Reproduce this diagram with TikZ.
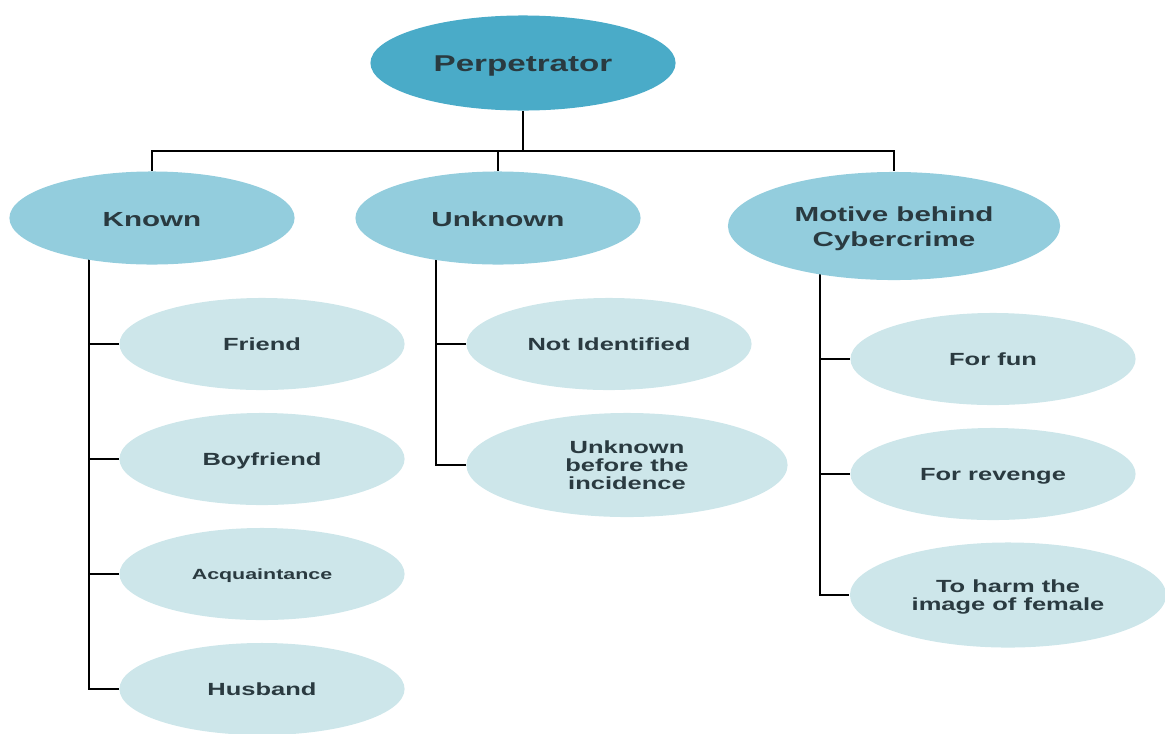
\documentclass[tikz,border=0pt]{standalone}
\usepackage{fontspec}
\setmainfont{Liberation Sans}
\usepackage{graphicx}
\usepackage{tikz}
\usetikzlibrary{shapes.geometric}
\usetikzlibrary{positioning}
\usetikzlibrary{backgrounds}
\definecolor{topblue}{HTML}{4AABC8}
\definecolor{midblue}{HTML}{93CDDD}
\definecolor{leafblue}{HTML}{CDE6EA}
\definecolor{txtgray}{HTML}{2A3A40}
\definecolor{linegray}{HTML}{8A8A8A}
% wide sans text, as in the reference
\newcommand{\wl}[1]{\raisebox{-0.15em}[\height][\depth]{\scalebox{1.45}[1]{\begin{tabular}{@{}c@{}}#1\end{tabular}}}}
\tikzset{
  ellnode/.style = {ellipse, inner sep=0pt, text=txtgray, align=center},
  top_n/.style = {ellnode, fill=topblue, minimum width=3.05cm, minimum height=0.95cm,
    font=\fontsize{6.5}{7.8}\selectfont\bfseries},% racine
  mid_n/.style = {ellnode, fill=midblue, minimum width=2.85cm, minimum height=0.93cm,
    font=\fontsize{5.8}{7.1}\selectfont\bfseries},% niveau 2
  leaf_n/.style = {ellnode, fill=leafblue, minimum width=2.85cm, minimum height=0.92cm,
    font=\fontsize{5}{5.1}\selectfont\bfseries},% feuilles
  branch/.style = {draw=linegray, line width=0.5pt}
}

\begin{document}
\begin{tikzpicture}[x=0.01cm, y=-0.01cm]
\useasboundingbox (0,0) rectangle (1165,733);

\node [top_n] (perp) at (523,63) {\wl{Perpetrator}};

\node [mid_n] (known) at (152,218) {\wl{Known}};
\node [mid_n] (unknown) at (498,218) {\wl{Unknown}};
\node [mid_n, minimum width=3.32cm, minimum height=1.08cm] (motive) at (894,226)
  {\wl{Motive behind\\Cybercrime}};

\node [leaf_n] (friend) at (262,344) {\wl{Friend}};
\node [leaf_n] (boyfriend) at (262,459) {\wl{Boyfriend}};
\node [leaf_n, font=\fontsize{4.2}{5}\selectfont\bfseries] (acq) at (262,574) {\wl{Acquaintance}};
\node [leaf_n] (husband) at (262,689) {\wl{Husband}};

\node [leaf_n] (notid) at (609,344) {\wl{Not Identified}};
\node [leaf_n, minimum width=3.21cm, minimum height=1.04cm] (unkbef) at (627,465)
  {\wl{Unknown\\before the\\incidence}};

\node [leaf_n] (fun) at (993,359) {\wl{For fun}};
\node [leaf_n] (revenge) at (993,474) {\wl{For revenge}};
\node [leaf_n, minimum width=3.16cm, minimum height=1.05cm] (harm) at (1008,595)
  {\wl{To harm the\\image of female}};

\begin{scope}[on background layer, branch]
\coordinate (bar) at (523,151);
\draw (perp.south) -- (bar);
\draw (known.north) |- (bar) -| (motive.north);
\draw (unknown.north) -- (unknown.north |- bar);

\coordinate (kspine) at ([xshift=-0.63cm]known.center);
\coordinate (uspine) at ([xshift=-0.62cm]unknown.center);
\coordinate (mspine) at ([xshift=-0.74cm]motive.center);
\draw (kspine) |- (husband.west);
\foreach \n in {friend,boyfriend,acq}
  \draw (kspine |- \n.west) -- (\n.west);
\draw (uspine) |- (unkbef.west);
\draw (uspine |- notid.west) -- (notid.west);
\draw (mspine) |- (harm.west);
\foreach \n in {fun,revenge}
  \draw (mspine |- \n.west) -- (\n.west);
\end{scope}
\end{tikzpicture}
\end{document}
